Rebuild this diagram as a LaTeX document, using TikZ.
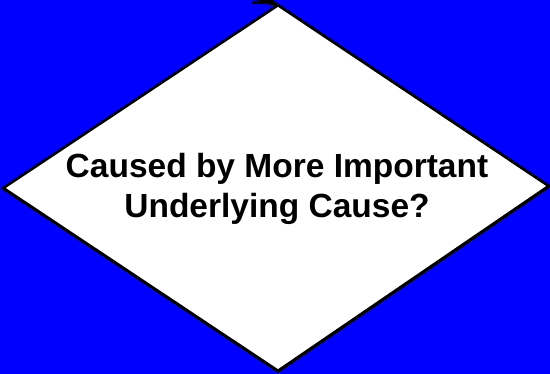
\documentclass[tikz,border=0pt]{standalone}
\usepackage{fontspec}
\setmainfont{Liberation Sans}
\begin{document}
\begin{tikzpicture}[x=1pt,y=-1pt,
  lbl/.style={font=\fontsize{33.5}{40}\selectfont\bfseries, anchor=base, inner sep=0pt}]
\fill[blue] (0,0) rectangle (550,374);
\useasboundingbox (0,0) rectangle (550,374);
\coordinate (T) at (278,5);
\coordinate (R) at (549,186);
\coordinate (B) at (278,371);
\coordinate (L) at (3,188);
\filldraw[fill=white, draw=black, line width=3pt, line join=miter] (T) -- (R) -- (B) -- (L) -- cycle;
\fill[black] (252,1) -- (272,-1) -- (281,6) -- (266,4) -- (252,4) -- cycle;
\node[lbl] (l1) at (277,178) {Caused by More Important};
\node[lbl] (l2) at (277,218) {Underlying Cause?};
\end{tikzpicture}
\end{document}
